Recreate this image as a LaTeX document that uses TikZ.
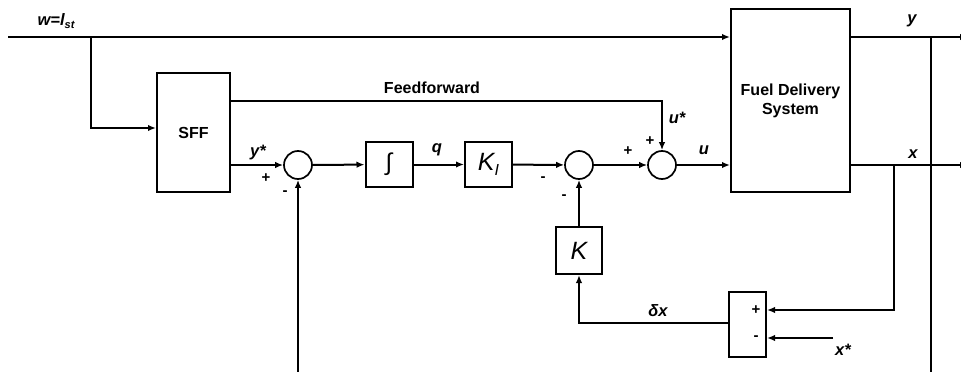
\documentclass[tikz,border=0pt]{standalone}
\usepackage{fontspec}
\setmainfont{Liberation Sans}
\usetikzlibrary{arrows.meta,positioning}

\begin{document}
\begin{tikzpicture}[
                x=1pt, y=-1pt,
                line width=2pt,
                box/.style={rectangle, draw, line width=2pt, inner sep=0pt},
                sumc/.style={circle, draw, line width=1.7pt, minimum size=28pt, inner sep=0pt},
                arr/.style={-{Latex[length=8pt,width=6.5pt]}, line width=2pt},
                txt/.style={font=\fontsize{16}{19}\selectfont\bfseries, align=center},
                lbl/.style={font=\fontsize{16.5}{18}\selectfont\bfseries\itshape},
                sgn/.style={font=\fontsize{15}{16}\selectfont\bfseries},
                gain/.style={font=\fontsize{25}{28}\selectfont\itshape},
            ]
            \useasboundingbox (0,0) rectangle (961,372);
            \node[box, minimum width=73pt, minimum height=119pt, txt] (sff) at (193.5,132.5) {SFF};
            \node[box, minimum width=47pt, minimum height=45pt] (integ) at (389,164.5) {\fontsize{24}{26}\selectfont ∫};
            \node[box, minimum width=47pt, minimum height=45pt, gain] (ki) at (488.5,164.5) {K\raisebox{-5pt}{\fontsize{16}{17}\selectfont I}};
            \node[box, minimum width=46pt, minimum height=47pt, gain] (kk) at (579,250.5) {K};
            \node[box, minimum width=37pt, minimum height=65pt] (cmp) at (747.5,324.5) {};
            \node[box, minimum width=119pt, minimum height=183pt, txt] (fuel) at (790.5,100.5) {Fuel Delivery\\System};
            \node[sumc] (sum1) at (298,165) {};
            \node[sumc] (sum3) at (579,165) {};
            \node[sumc] (sum2) at (662,165) {};
            \coordinate (win) at (8,37);
            \coordinate (br) at (91,37);
            \coordinate (yout) at (968,37);
            \coordinate (xout) at (968,165);
            \coordinate (ytap) at (931,37);
            \coordinate (ybot) at (931,380);
            \coordinate (xtap) at (894,165);
            \coordinate (xstar) at (833,338);
            \coordinate (fb) at (298,380);
            \draw[arr] (win) -- (win -| fuel.west);
            \draw[arr] (br) |- ([yshift=4.5pt]sff.west);
            \draw[arr] ([yshift=31.5pt]sff.east) -| (sum2.north);
            \draw[arr] ([yshift=-32.5pt]sff.east) -- (sum1.west);
            \draw[arr] (sum1) -- (integ);
            \draw[arr] (integ) -- (ki);
            \draw[arr] (ki) -- (sum3);
            \draw[arr] (sum3) -- (sum2);
            \draw[arr] (sum2) -- (sum2 -| fuel.west);
            \draw[arr] (fuel.east |- yout) -- (yout);
            \draw[arr] (fuel.east |- xout) -- (xout);
            \draw (ytap) -- (ybot);
            \draw[arr] (xtap) |- ([yshift=14.5pt]cmp.east);
            \draw[arr] (xstar) -- (cmp.east |- xstar);
            \draw[arr] ([yshift=1.5pt]cmp.west) -| (kk.south);
            \draw[arr] (kk) -- (sum3);
            \draw[arr] (fb) -- (sum1);
            \node[lbl] (wlbl) at (56,21) {w=l\raisebox{-3pt}{\fontsize{11}{12}\selectfont st}};
            \node[txt] (fflbl) at (432,88) {Feedforward};
            \node[lbl] (ystlbl) at (258,153) {y*};
            \node[lbl] (qlbl) at (437,150) {q};
            \node[lbl] (ustlbl) at (677,118) {u*};
            \node[lbl] (ulbl) at (704,150) {u};
            \node[lbl] (ylbl) at (912,21) {y};
            \node[lbl] (xlbl) at (913,154) {x};
            \node[lbl] (dxlbl) at (658,311) {δx};
            \node[lbl] (xslbl) at (843,350) {x*};
            \node[sgn] (p1) at (266,178) {+};
            \node[sgn] (m1) at (285,193) {-};
            \node[sgn] (m2) at (543,179) {-};
            \node[sgn] (m3) at (564,197) {-};
            \node[sgn] (p2) at (628,151) {+};
            \node[sgn] (p3) at (650,141) {+};
            \node[sgn] (p4) at (756,310) {+};
            \node[sgn] (m4) at (756,338) {-};
        \end{tikzpicture}
\end{document}
